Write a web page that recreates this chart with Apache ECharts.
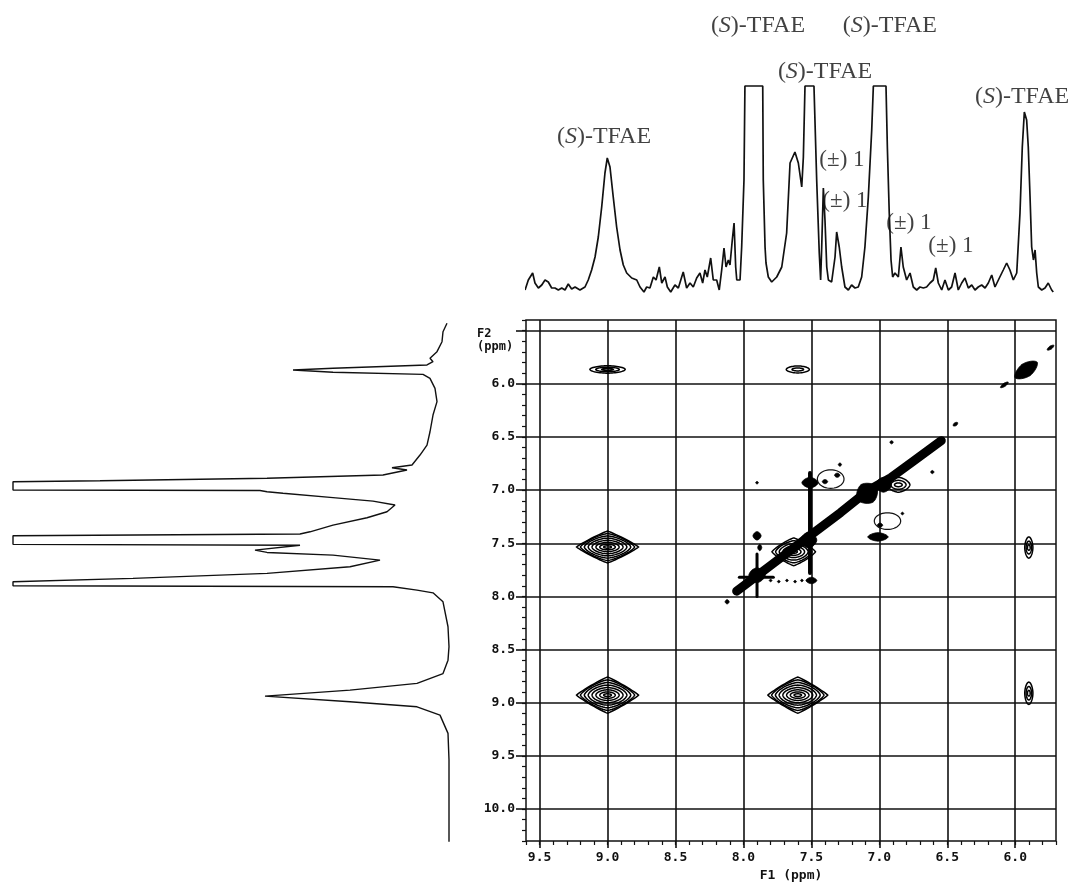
<!DOCTYPE html>
<html><head><meta charset="utf-8">
<script src="https://cdn.jsdelivr.net/npm/echarts@6/dist/echarts.min.js"></script>
<style>html,body{margin:0;padding:0;background:#fff}#c{width:1071px;height:887px}</style>
</head><body><div id="c"></div>
<script>
// ---- tick values ----
const f1Ticks = [9.5, 9.0, 8.5, 8.0, 7.5, 7.0, 6.5, 6.0];
const f2Ticks = [5.5, 6.0, 6.5, 7.0, 7.5, 8.0, 8.5, 9.0, 9.5, 10.0];
const f2Labels = [6.0, 6.5, 7.0, 7.5, 8.0, 8.5, 9.0, 9.5, 10.0];

// ---- F1 projection (top trace): [ppm, intensity] ----
const topSpectrum = [
 [9.607,0],[9.583,10],[9.551,17],[9.534,7],[9.509,2],[9.484,5],[9.460,10],[9.436,8],[9.411,2],[9.387,2],
 [9.362,0],[9.337,2],[9.313,0],[9.289,6],[9.264,1],[9.239,3],[9.203,0],[9.166,3],[9.142,10],[9.117,20],
 [9.092,33],[9.068,53],[9.043,83],[9.019,117],[9.002,132],[8.982,123],[8.958,93],[8.933,63],[8.908,40],[8.884,25],
 [8.859,17],[8.822,12],[8.785,10],[8.761,3],[8.732,-2],[8.712,3],[8.688,2],[8.663,13],[8.643,10],[8.619,23],
 [8.601,7],[8.577,13],[8.560,3],[8.535,-2],[8.504,5],[8.479,2],[8.443,18],[8.418,2],[8.393,7],[8.369,3],
 [8.344,12],[8.320,17],[8.300,7],[8.283,20],[8.266,13],[8.241,32],[8.222,10],[8.197,10],[8.178,0],[8.160,20],
 [8.143,42],[8.128,23],[8.111,30],[8.099,25],[8.082,50],[8.069,67],[8.057,23],[8.049,10],[8.025,10],[8.013,43],
 [7.996,110],[7.989,204],[7.858,204],[7.854,110],[7.841,43],[7.834,27],[7.817,13],[7.792,8],[7.755,13],[7.718,23],
 [7.682,57],[7.657,127],[7.621,138],[7.596,127],[7.571,103],[7.559,133],[7.547,204],[7.481,204],[7.461,110],[7.442,37],
 [7.432,10],[7.424,43],[7.412,102],[7.400,70],[7.387,23],[7.375,10],[7.351,8],[7.326,33],[7.314,58],[7.295,43],
 [7.277,23],[7.253,3],[7.228,0],[7.204,5],[7.179,2],[7.155,3],[7.130,13],[7.106,43],[7.081,93],[7.056,160],
 [7.044,204],[6.951,204],[6.941,143],[6.927,77],[6.914,30],[6.902,13],[6.885,17],[6.860,13],[6.841,43],[6.824,23],
 [6.799,10],[6.774,17],[6.750,3],[6.725,0],[6.701,3],[6.676,2],[6.652,3],[6.627,7],[6.603,10],[6.585,22],
 [6.566,7],[6.541,0],[6.517,10],[6.492,0],[6.468,3],[6.443,17],[6.419,0],[6.394,7],[6.370,12],[6.345,2],
 [6.320,5],[6.296,0],[6.272,3],[6.247,5],[6.222,2],[6.198,7],[6.173,15],[6.149,3],[6.124,10],[6.088,20],
 [6.063,27],[6.039,20],[6.014,10],[5.989,17],[5.965,77],[5.948,143],[5.933,178],[5.916,170],[5.904,143],[5.891,93],
 [5.879,43],[5.866,30],[5.854,40],[5.842,17],[5.830,3],[5.805,0],[5.781,2],[5.757,7],[5.732,0],[5.720,-2]
];

// ---- F2 projection (left trace): [intensity, ppm] ----
const leftSpectrum = [
 [0,5.431],[4,5.510],[5,5.604],[10,5.698],[17,5.760],[14,5.792],[20,5.823],[114,5.854],[154,5.870],[114,5.892],
 [24,5.911],[17,5.949],[12,6.043],[10,6.168],[14,6.294],[17,6.451],[20,6.576],[27,6.670],[35,6.764],[55,6.789],
 [40,6.811],[64,6.858],[180,6.889],[347,6.912],[434,6.921],[434,6.999],[187,7.004],[180,7.015],[164,7.030],[114,7.071],
 [74,7.103],[52,7.140],[60,7.203],[80,7.260],[114,7.329],[137,7.392],[147,7.413],[434,7.429],[434,7.510],[147,7.519],
 [192,7.564],[180,7.586],[114,7.611],[67,7.658],[97,7.721],[180,7.783],[314,7.830],[434,7.862],[434,7.900],[54,7.909],
 [30,7.940],[14,7.966],[4,8.050],[2,8.066],[-1,8.285],[-2,8.473],[-1,8.599],[4,8.725],[30,8.818],[97,8.881],
 [182,8.937],[97,8.991],[30,9.038],[7,9.116],[-1,9.288],[-2,9.539],[-2,10.308]
];

// ---- 2D map: cross peaks [F1, F2, halfWidthF1, halfWidthF2, rings, diamondness] ----
const crossPeaks = [
 [9.00, 8.928, 0.228, 0.170, 8, 0.9],
 [7.60, 8.928, 0.220, 0.170, 8, 0.9],
 [9.00, 7.535, 0.228, 0.150, 8, 0.9],
 [7.63, 7.580, 0.160, 0.130, 6, 0.8],
 [9.00, 5.865, 0.130, 0.035, 3, 0.2],
 [7.60, 5.865, 0.085, 0.033, 2, 0.2],
 [5.90, 7.540, 0.030, 0.100, 3, 0.2],
 [5.90, 8.910, 0.030, 0.105, 3, 0.2],
 [6.86, 6.950, 0.085, 0.070, 3, 0.4]
];
// filled blobs [F1, F2, rxPpm, ryPpm, rotationDeg]
const blobs = [
 [7.90,7.80,0.060,0.070,0],[7.51,6.93,0.060,0.050,0],[7.09,7.03,0.085,0.100,-35],[6.97,6.95,0.060,0.070,0],
 [7.01,7.44,0.075,0.040,0],[7.50,7.85,0.040,0.030,0],[7.90,7.43,0.030,0.040,0],[5.92,5.87,0.100,0.065,-35],
 [6.08,6.01,0.035,0.015,-35],[5.74,5.66,0.030,0.015,-35],[7.52,7.47,0.060,0.075,0],
 [7.29,6.76,0.012,0.015,0],[6.91,6.55,0.012,0.015,0],[6.61,6.83,0.012,0.015,0],[7.90,6.93,0.010,0.012,0],
 [6.83,7.22,0.010,0.012,0],[7.88,7.54,0.015,0.030,0],[8.12,8.05,0.015,0.020,0],[6.44,6.38,0.020,0.015,-35],
 [7.40,6.92,0.020,0.020,0],[7.31,6.86,0.020,0.020,0],[6.995,7.33,0.020,0.020,0],
 [7.80,7.85,0.010,0.010,0],[7.74,7.86,0.010,0.010,0],[7.68,7.85,0.010,0.010,0],[7.62,7.86,0.010,0.010,0],[7.57,7.85,0.010,0.010,0]
];
// streaks [F1a, F2a, F1b, F2b, widthPx]
const streaks = [
 [7.51,6.84,7.51,7.78,4],[7.90,7.60,7.90,8.00,3],[8.03,7.82,7.78,7.82,3]
];
// diagonal band [F1, F2]
const diagonal = [
 [8.05,7.95],[7.974,7.878],[7.781,7.690],[7.530,7.446],[7.285,7.211],[7.085,7.005],[6.915,6.883],[6.744,6.723],[6.544,6.535]
];
// annotation ellipses [F1, F2, rxPpm, ryPpm]
const circles = [[7.358,6.896,0.098,0.087],[6.940,7.291,0.097,0.078]];

// ---- peak annotations on the F1 trace ----
const tfaeLabelPos = [[9.026,153],[7.893,264],[6.922,264],[7.40,218],[5.95,193]];
const pmLabelPos = [[7.275,130],[7.253,89],[6.782,67],[6.473,44]];

const MONO = '"DejaVu Sans Mono", "Liberation Mono", monospace';
const SERIF = '"Liberation Serif", "DejaVu Serif", serif';

function ellipsePts(cx, cy, a, b, p, rot, n) {
  const pts = [];
  const cr = Math.cos(rot), sr = Math.sin(rot);
  for (let j = 0; j < n; j++) {
    const th = j / n * Math.PI * 2;
    const ct = Math.cos(th), st = Math.sin(th);
    const x = a * Math.sign(ct) * Math.pow(Math.abs(ct), 2 / p);
    const y = b * Math.sign(st) * Math.pow(Math.abs(st), 2 / p);
    pts.push([cx + x * cr - y * sr, cy + x * sr + y * cr]);
  }
  return pts;
}

const chart = echarts.init(document.getElementById('c'), null, {renderer: 'canvas'});

const option = {
  animation: false,
  backgroundColor: '#fff',
  grid: [
    {left: 526, top: 320, width: 530, height: 521, show: true, borderColor: '#111', borderWidth: 1.5, backgroundColor: 'transparent'},
    {left: 526, top: 86, width: 530, height: 214},
    {left: 13, top: 320, width: 444, height: 521}
  ],
  xAxis: [
    {gridIndex: 0, type: 'value', min: 5.7, max: 9.6, interval: 0.1, inverse: true, position: 'bottom',
     axisLine: {show: false}, axisTick: {show: true, length: 4, lineStyle: {color: '#111', width: 1.2}},
     axisLabel: {show: false}, splitLine: {show: false}},
    {gridIndex: 0, type: 'value', min: 5.7, max: 9.6, interval: 0.1, inverse: true, position: 'bottom',
     axisLine: {show: false},
     axisTick: {show: true, length: 7, customValues: f1Ticks, lineStyle: {color: '#111', width: 1.6}},
     axisLabel: {show: true, customValues: f1Ticks, margin: 10, formatter: v => Number(v).toFixed(1),
       fontFamily: MONO, fontWeight: 'bold', fontSize: 13, color: '#111'},
     splitLine: {show: true, lineStyle: {color: '#111', width: 1.6}},
     name: 'F1 (ppm)', nameLocation: 'middle', nameGap: 28,
     nameTextStyle: {fontFamily: MONO, fontWeight: 'bold', fontSize: 13, color: '#111'}},
    {gridIndex: 1, type: 'value', min: 5.7, max: 9.6, inverse: true, show: false},
    {gridIndex: 2, type: 'value', min: -10, max: 434, inverse: true, show: false}
  ],
  yAxis: [
    {gridIndex: 0, type: 'value', min: 5.4, max: 10.3, interval: 0.1, inverse: true, position: 'left',
     axisLine: {show: false}, axisTick: {show: true, length: 4, lineStyle: {color: '#111', width: 1.2}},
     axisLabel: {show: false}, splitLine: {show: false}},
    {gridIndex: 0, type: 'value', min: 5.4, max: 10.3, interval: 0.1, inverse: true, position: 'left',
     axisLine: {show: false},
     axisTick: {show: true, length: 10, customValues: f2Ticks, lineStyle: {color: '#111', width: 1.6}},
     axisLabel: {show: true, customValues: f2Labels, margin: 11, formatter: v => Number(v).toFixed(1),
       fontFamily: MONO, fontWeight: 'bold', fontSize: 13, color: '#111'},
     splitLine: {show: true, lineStyle: {color: '#111', width: 1.6}}},
    {gridIndex: 1, type: 'value', min: -10, max: 204, show: false},
    {gridIndex: 2, type: 'value', min: 5.4, max: 10.3, inverse: true, show: false}
  ],
  graphic: [
    {type: 'text', left: 477, top: 327, style: {text: 'F2\n(ppm)', font: 'bold 12px ' + MONO, lineHeight: 13, fill: '#111'}}
  ],
  series: [
    {type: 'line', name: 'F1 trace', xAxisIndex: 2, yAxisIndex: 2, data: topSpectrum, symbol: 'none', clip: false,
     lineStyle: {color: '#111', width: 1.7}},
    {type: 'line', name: 'F2 trace', xAxisIndex: 3, yAxisIndex: 3, data: leftSpectrum, symbol: 'none', clip: false,
     lineStyle: {color: '#111', width: 1.4}},
    {type: 'line', name: 'diagonal', xAxisIndex: 0, yAxisIndex: 0, data: diagonal, symbol: 'none',
     lineStyle: {color: '#000', width: 9, cap: 'round', join: 'round'}, z: 3},
    {type: 'custom', name: 'cross peaks', xAxisIndex: 0, yAxisIndex: 0, data: crossPeaks, z: 4,
     renderItem: function (params, api) {
       const c = api.coord([api.value(0), api.value(1)]);
       const s = api.size([api.value(2), api.value(3)]);
       const n = api.value(4), d = api.value(5);
       const children = [];
       for (let k = n; k >= 1; k--) {
         const t = k / n;
         const a = s[0] * t, b = s[1] * Math.pow(t, 1.25);
         const p = 2 - d * t * t;
         children.push({type: 'polygon', shape: {points: ellipsePts(c[0], c[1], a, b, p, 0, 64)},
           style: {fill: null, stroke: '#000', lineWidth: 1.5}});
       }
       return {type: 'group', children: children};
     }},
    {type: 'custom', name: 'blobs', xAxisIndex: 0, yAxisIndex: 0, data: blobs, z: 4,
     renderItem: function (params, api) {
       const c = api.coord([api.value(0), api.value(1)]);
       const s = api.size([api.value(2), api.value(3)]);
       const rot = api.value(4) * Math.PI / 180;
       return {type: 'polygon', shape: {points: ellipsePts(c[0], c[1], Math.max(s[0], 1.2), Math.max(s[1], 1.2), 1.6, rot, 32)},
         style: {fill: '#000', stroke: '#000', lineWidth: 0.8}};
     }},
    {type: 'custom', name: 'streaks', xAxisIndex: 0, yAxisIndex: 0, data: streaks, z: 4,
     renderItem: function (params, api) {
       const a = api.coord([api.value(0), api.value(1)]);
       const b = api.coord([api.value(2), api.value(3)]);
       return {type: 'line', shape: {x1: a[0], y1: a[1], x2: b[0], y2: b[1]},
         style: {stroke: '#000', lineWidth: api.value(4), lineCap: 'round'}};
     }},
    {type: 'custom', name: 'circles', xAxisIndex: 0, yAxisIndex: 0, data: circles, z: 5,
     renderItem: function (params, api) {
       const c = api.coord([api.value(0), api.value(1)]);
       const s = api.size([api.value(2), api.value(3)]);
       return {type: 'polygon', shape: {points: ellipsePts(c[0], c[1], s[0], s[1], 2, 0, 48)},
         style: {fill: null, stroke: '#111', lineWidth: 1.2}};
     }},
    {type: 'scatter', name: 'TFAE labels', xAxisIndex: 2, yAxisIndex: 2, data: tfaeLabelPos, clip: false,
     symbolSize: 1, itemStyle: {color: 'rgba(0,0,0,0)'},
     label: {show: true, position: 'inside', formatter: '({i|S})-TFAE', fontFamily: SERIF, fontSize: 24, color: '#111',
       rich: {i: {fontFamily: SERIF, fontSize: 24, fontStyle: 'italic', color: '#111'}}}},
    {type: 'scatter', name: 'rac labels', xAxisIndex: 2, yAxisIndex: 2, data: pmLabelPos, clip: false,
     symbolSize: 1, itemStyle: {color: 'rgba(0,0,0,0)'},
     label: {show: true, position: 'inside', formatter: '(±) 1', fontFamily: SERIF, fontSize: 23, color: '#111'}}
  ]
};
chart.setOption(option);
</script>
</body></html>
